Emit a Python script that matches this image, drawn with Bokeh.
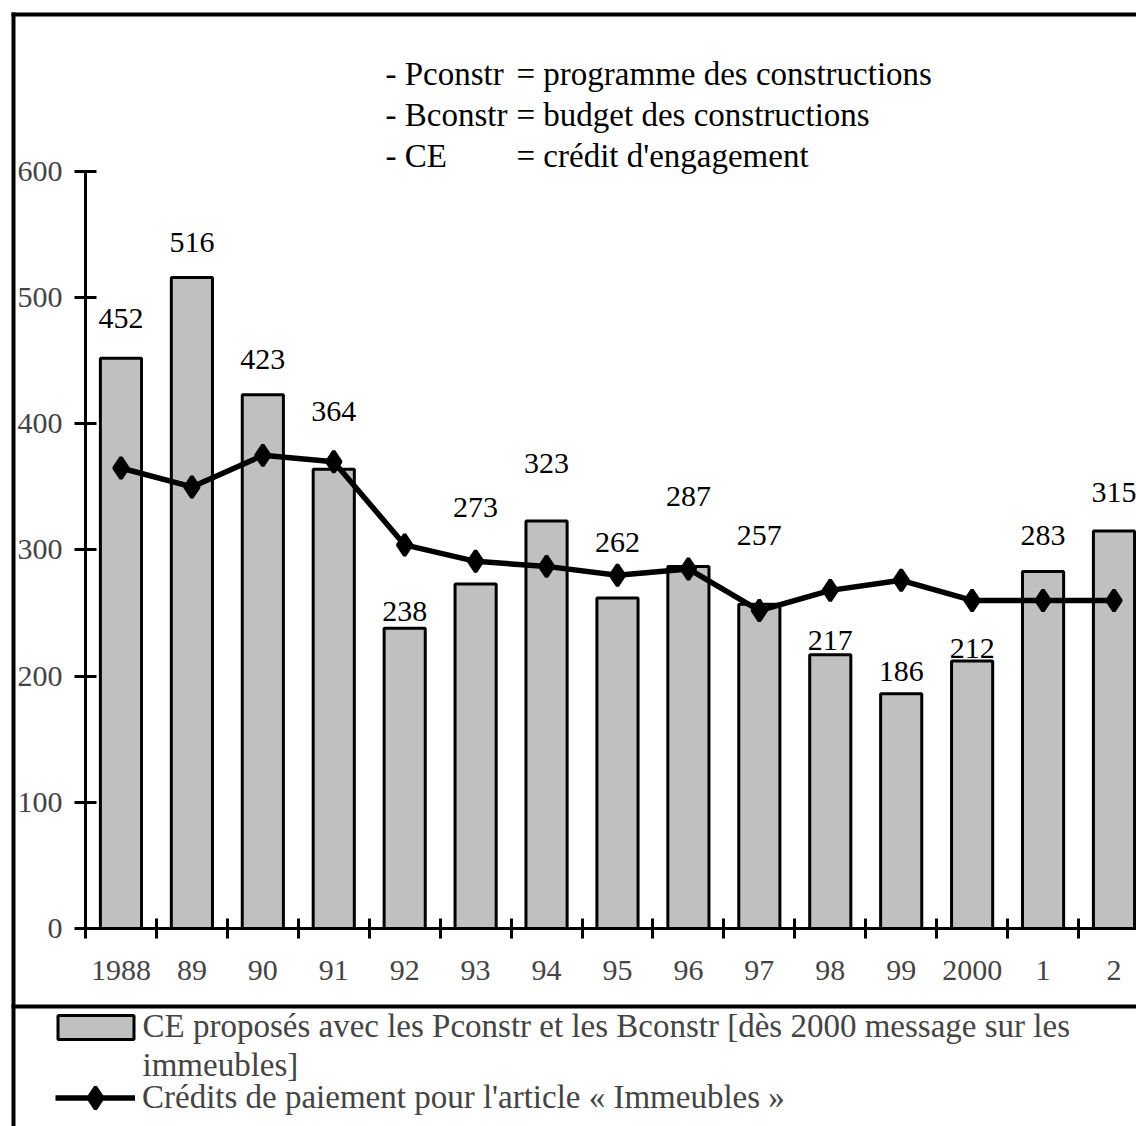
from bokeh.plotting import figure
from bokeh.models import LinearAxis, FixedTicker, Range1d, Legend, LegendItem
from bokeh.core.properties import value
from bokeh.embed import file_html
from bokeh.resources import INLINE

# ---------------- data ----------------
years = ["1988", "89", "90", "91", "92", "93", "94", "95", "96", "97", "98", "99", "2000", "1", "2"]
ce_proposes = [452, 516, 423, 364, 238, 273, 323, 262, 287, 257, 217, 186, 212, 283, 315]
credits_paiement = [365, 350, 375, 370, 304, 291, 287, 280, 285, 252, 268, 276, 260, 260, 260]
y_ticks = [0, 100, 200, 300, 400, 500, 600]

abbrev = ["- Pconstr", "- Bconstr", "- CE"]
meanings = ["= programme des constructions", "= budget des constructions", "= crédit d'engagement"]

legend_bar_1 = "CE proposés avec les Pconstr et les Bconstr [dès 2000 message sur les"
legend_bar_2 = "immeubles]"
legend_line = "Crédits de paiement pour l'article « Immeubles »"

# ---------------- layout helpers (pixels -> data) ----------------
W, H = 1136, 1126
X0_PX, DX_PX = 85.0, 70.93      # page x of first category boundary, px per category
Y0_PX, DY_PX = 928.0, 1.2617    # page y of value 0, px per unit


def xd(px):
    return (px - X0_PX) / DX_PX - 0.5


def yd(py):
    return (Y0_PX - py) / DY_PX


FONT = "Liberation Serif"
FS_NUM = "30px"
FS_TOP = "33px"
FS_LEG = "33px"

label_offset_px = [40, 35, 35, 58, 17, 77, 57, 55, 70, 69, 14, 22, 13, 36, 39]

p = figure(width=W, height=H,
           x_range=Range1d(xd(0), xd(W)),
           y_range=Range1d(yd(H), yd(0)),
           x_axis_location=None, y_axis_location=None,
           output_backend="svg", toolbar_location=None, min_border=0)
p.outline_line_color = None
p.grid.grid_line_color = None
p.background_fill_color = "white"
p.border_fill_color = "white"

idx = list(range(len(years)))

r_bar = p.vbar(x=idx, top=ce_proposes, width=0.58, bottom=0,
               fill_color="#C0C0C0", line_color="black", line_width=3)
r_line = p.line(idx, credits_paiement, line_color="black", line_width=5.5)
r_pts = p.scatter(idx, credits_paiement, marker="diamond",
                  size=21, fill_color="black", line_color="black", line_width=3.5)
r_blank = p.scatter(x=[], y=[], alpha=0)

# bar value labels
p.text(x=idx, y=[v + o / DY_PX for v, o in zip(ce_proposes, label_offset_px)],
       text=[str(v) for v in ce_proposes], text_align="center", text_baseline="middle",
       text_font=value(FONT), text_font_size=FS_NUM, text_color="black")

# definitions at top
base_px = [73, 114, 155]
p.text(x=[xd(385)] * 3, y=[yd(b) for b in base_px], text=abbrev,
       text_baseline="alphabetic", text_font=value(FONT), text_font_size=FS_TOP, text_color="black")
p.text(x=[xd(516)] * 3, y=[yd(b) for b in base_px], text=meanings,
       text_baseline="alphabetic", text_font=value(FONT), text_font_size=FS_TOP, text_color="black")

# axes
yaxis = LinearAxis(fixed_location=-0.5, bounds=(0, 600), ticker=FixedTicker(ticks=y_ticks),
                   axis_line_width=3, major_tick_line_width=3, major_tick_in=11, major_tick_out=11,
                   minor_tick_line_color=None, major_label_text_font=FONT,
                   major_label_text_font_size=FS_NUM, major_label_standoff=12)
p.add_layout(yaxis, "left")

xaxis = LinearAxis(fixed_location=0, bounds=(-0.5, 14.5),
                   ticker=FixedTicker(ticks=[i - 0.5 for i in range(16)]),
                   axis_line_width=3, major_tick_line_width=3, major_tick_in=10, major_tick_out=10,
                   minor_tick_line_color=None, major_label_text_color=None)
p.add_layout(xaxis, "below")

lab_axis = LinearAxis(fixed_location=0, ticker=FixedTicker(ticks=idx),
                      major_label_overrides={i: years[i] for i in idx},
                      axis_line_color=None, major_tick_line_color=None, minor_tick_line_color=None,
                      major_tick_in=0, major_tick_out=0,
                      major_label_text_font=FONT, major_label_text_font_size=FS_NUM,
                      major_label_standoff=32)
p.add_layout(lab_axis, "below")


def border_axis(loc, bounds, lw=4):
    return LinearAxis(fixed_location=loc, bounds=bounds, ticker=FixedTicker(ticks=[]),
                      axis_line_width=lw, axis_line_color="black",
                      major_tick_line_color=None, minor_tick_line_color=None,
                      major_label_text_color=None)


p.add_layout(border_axis(xd(13), (yd(H), yd(12))), "left")
p.add_layout(border_axis(yd(14), (xd(11), xd(W))), "above")
p.add_layout(border_axis(yd(1006), (xd(11), xd(W))), "below")

# legends
leg1 = Legend(items=[LegendItem(label=legend_bar_1, renderers=[r_bar]),
                     LegendItem(label=legend_bar_2, renderers=[r_blank])],
              location=(47.5, H - 1084), glyph_width=95, glyph_height=30, label_height=36,
              label_standoff=0, spacing=2, padding=0, margin=0,
              border_line_color=None, background_fill_alpha=0,
              label_text_font=FONT, label_text_font_size=FS_LEG)
leg2 = Legend(items=[LegendItem(label=legend_line, renderers=[r_line, r_pts])],
              location=(55, H - 1125), glyph_width=80, glyph_height=55, label_height=55,
              label_standoff=7, spacing=0, padding=0, margin=0,
              border_line_color=None, background_fill_alpha=0,
              label_text_font=FONT, label_text_font_size=FS_LEG)
p.add_layout(leg1)
p.add_layout(leg2)

open("out.html", "w").write(file_html(p, INLINE))
